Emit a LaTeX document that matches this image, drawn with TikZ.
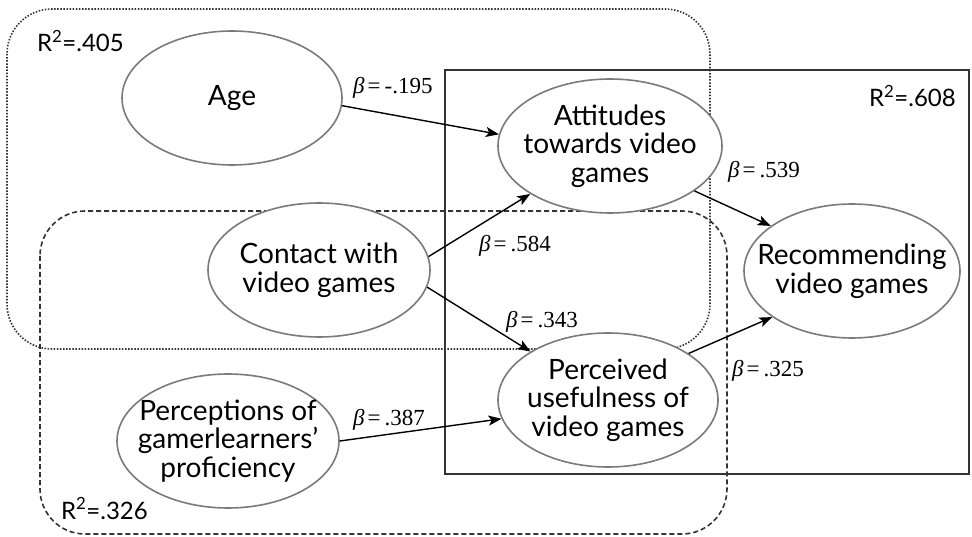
\documentclass[tikz,border=0pt]{standalone}
\usepackage{fontspec}
\setmainfont{Lato}
\newfontfamily\betafont{Liberation Serif}
\usetikzlibrary{shapes.geometric,arrows.meta}
\definecolor{ellgray}{HTML}{7A7A7A}
\definecolor{boxgray}{HTML}{333333}
\newcommand{\bcoef}[1]{{\itshape β}\kern3pt=\kern4pt#1}
\begin{document}
\begin{tikzpicture}[x=1pt,y=-1pt,
  ell/.style={ellipse, draw=ellgray, line width=1.6pt, fill=white,
    inner xsep=-40pt, inner ysep=-20pt,
    minimum width=222pt, minimum height=134pt, align=center, text=black,
    font=\fontsize{28}{28.5}\selectfont},
  conn/.style={draw=black, line width=1.4pt, -{Stealth[length=13pt,width=10pt,inset=3pt]}},
  rlabel/.style={anchor=base west, inner sep=0pt, font=\fontsize{24}{28}\selectfont},
  blabel/.style={anchor=base west, inner sep=0pt, font=\betafont\fontsize{23}{26}\selectfont},
  dotbox/.style={draw=boxgray, line width=1.6pt, dash pattern=on 1.5pt off 1.6pt, rounded corners=45pt},
  dashbox/.style={draw=boxgray, line width=1.6pt, dash pattern=on 5pt off 3pt, rounded corners=45pt},
  solidbox/.style={draw=boxgray, line width=1.6pt}
]
\useasboundingbox (0,0) rectangle (972,537);
\fill[white] (0,0) rectangle (972,537);
% groups
\draw[dotbox] (7,9) rectangle (710,349);
\draw[dashbox] (40,211) rectangle (727,534);
\draw[solidbox] (445,70) rectangle (969,474);
% R2 labels
\node[rlabel] (r405) at (37,52) {R\textsuperscript{2}=.405};
\node[rlabel] (r608) at (869,107) {R\textsuperscript{2}=.608};
\node[rlabel] (r326) at (61,519) {R\textsuperscript{2}=.326};
% constructs
\node[ell, minimum width=220pt] (age) at (232,98) {Age};
\node[ell, minimum width=224pt] (att) at (610,146) {Attitudes\\towards video\\games};
\node[ell] (con) at (319,270) {Contact with\\video games};
\node[ell, minimum width=216pt] (rec) at (852,271) {Recommending\\video games};
\node[ell, minimum width=220pt] (per) at (608,400) {Perceived\\usefulness of\\video games};
\node[ell] (pcp) at (228,441) {Perceptions of\\gamerlearners'\\proficiency};
% paths
\draw[conn] (age.-4) -- (att.174);
\draw[conn] (con.7) -- (att.211);
\draw[conn] (con.-9) -- (per.148);
\draw[conn] (pcp.0) -- (per.190);
\draw[conn] (att.-28) -- (rec.151);
\draw[conn] (per.30) -- (rec.210);
% coefficients
\node[blabel] (b1) at (353,94) {\bcoef{-.195}};
\node[blabel] (b2) at (728,178) {\bcoef{.539}};
\node[blabel] (b3) at (479,252) {\bcoef{.584}};
\node[blabel] (b4) at (506,327) {\bcoef{.343}};
\node[blabel] (b5) at (353,425) {\bcoef{.387}};
\node[blabel] (b6) at (732,376) {\bcoef{.325}};
\end{tikzpicture}
\end{document}
